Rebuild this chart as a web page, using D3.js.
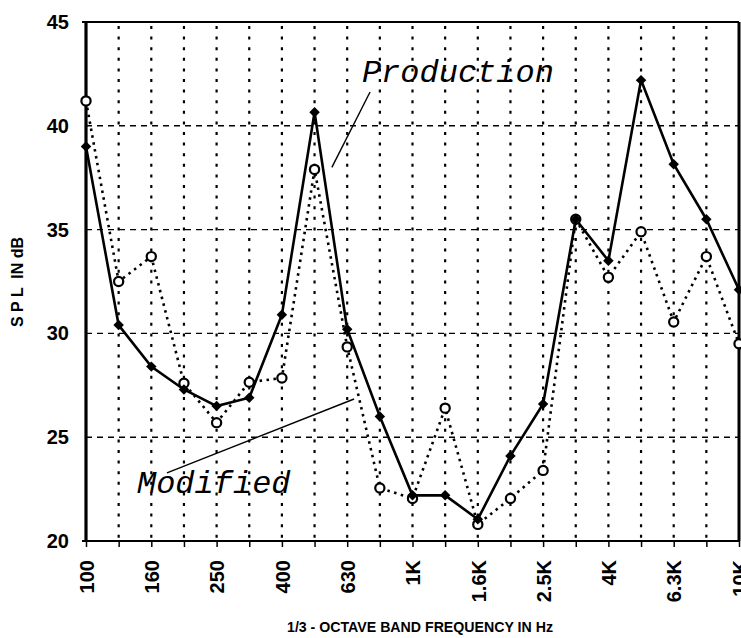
<!DOCTYPE html>
<html>
<head>
<meta charset="utf-8">
<script src="https://cdn.jsdelivr.net/npm/d3@7"></script>
<style>
  body { margin: 0; background: #fff; }
  svg { display: block; font-family: Arial, "Liberation Sans", sans-serif; }
</style>
</head>
<body>
<svg id="chart" width="741" height="638"></svg>
<script>
// 1/3 octave bands
const bands = ['100', '125', '160', '200', '250', '315', '400', '500', '630', '800', '1K',
  '1.25K', '1.6K', '2K', '2.5K', '3.15K', '4K', '5K', '6.3K', '8K', '10K'];
const tickLabels = ['100', '160', '250', '400', '630', '1K', '1.6K', '2.5K', '4K', '6.3K', '10K'];
const yTicks = [20, 25, 30, 35, 40, 45];
const production = [39.0, 30.4, 28.4, 27.3, 26.5, 26.9, 30.9, 40.65, 30.2, 26.0, 22.2,
  22.2, 21.05, 24.1, 26.6, 35.5, 33.5, 42.2, 38.15, 35.5, 32.1];
const modified = [41.2, 32.5, 33.7, 27.6, 25.7, 27.65, 27.85, 37.9, 29.35, 22.55, 22.05,
  26.4, 20.8, 22.05, 23.4, 35.5, 32.7, 34.9, 30.55, 33.7, 29.5];
// callouts: [band index, dB]
const prodLabel = { text: 'Production', at: [8.45, 42.1], line: [[8.7, 41.63], [7.53, 38.0]] };
const modLabel = { text: 'Modified', at: [1.56, 22.31], line: [[2.48, 23.28], [8.21, 26.84]] };

const svg = d3.select('#chart');
const x = d3.scalePoint().domain(bands).range([86, 739]);
const xi = d3.scaleLinear().domain([0, bands.length - 1]).range(x.range());
const y = d3.scaleLinear().domain([20, 45]).range([541, 22]);
const x0 = x(bands[0]), x1 = x(bands[bands.length - 1]);

// grid
svg.append('g').selectAll('line').data(yTicks.slice(1, -1)).join('line')
  .attr('x1', x0).attr('x2', x1).attr('y1', d => y(d)).attr('y2', d => y(d))
  .attr('stroke', '#000').attr('stroke-width', 1.4).attr('stroke-dasharray', '6,5');
svg.append('g').selectAll('line').data(bands.slice(1, -1)).join('line')
  .attr('x1', d => x(d)).attr('x2', d => x(d)).attr('y1', y(45) + 4).attr('y2', y(20))
  .attr('stroke', '#000').attr('stroke-width', 2.2).attr('stroke-dasharray', '3,7.6');

// x axis
const gx = svg.append('g').attr('transform', `translate(0,${y(20)})`)
  .call(d3.axisBottom(x).tickSize(6).tickFormat(d => tickLabels.includes(d) ? d : ''));
gx.select('.domain').remove();
gx.selectAll('.tick line').attr('stroke-width', 1.5);
gx.selectAll('.tick text')
  .attr('transform', 'rotate(-90)')
  .attr('x', -19).attr('y', 0).attr('dy', '0.36em')
  .style('text-anchor', 'end')
  .attr('font-size', 20).attr('font-weight', 'bold').attr('fill', '#000');

// y axis
const gy = svg.append('g').attr('transform', `translate(${x0},0)`)
  .call(d3.axisLeft(y).tickValues(yTicks).tickSize(0).tickPadding(17));
gy.select('.domain').remove();
gy.selectAll('.tick text').attr('font-size', 20).attr('font-weight', 'bold').attr('fill', '#000');

// frame
svg.append('line').attr('x1', x0).attr('x2', x0).attr('y1', y(45)).attr('y2', y(20))
  .attr('stroke', '#000').attr('stroke-width', 3.2);
svg.append('line').attr('x1', x1).attr('x2', x1).attr('y1', y(45)).attr('y2', y(20))
  .attr('stroke', '#000').attr('stroke-width', 3);
svg.append('line').attr('x1', x0 - 4).attr('x2', x1).attr('y1', y(45)).attr('y2', y(45))
  .attr('stroke', '#000').attr('stroke-width', 2.2);
svg.append('line').attr('x1', x0 - 4).attr('x2', x1).attr('y1', y(20)).attr('y2', y(20))
  .attr('stroke', '#000').attr('stroke-width', 2.2);

// series
const line = d3.line().x((d, i) => x(bands[i])).y(d => y(d));
svg.append('path').datum(modified).attr('d', line)
  .attr('fill', 'none').attr('stroke', '#000').attr('stroke-width', 2.6)
  .attr('stroke-dasharray', '2.5,4.5');
svg.append('path').datum(production).attr('d', line)
  .attr('fill', 'none').attr('stroke', '#000').attr('stroke-width', 2.6);

svg.append('g').selectAll('circle').data(modified).join('circle')
  .attr('cx', (d, i) => x(bands[i])).attr('cy', d => y(d)).attr('r', 4.6)
  .attr('fill', '#fff').attr('stroke', '#000').attr('stroke-width', 2.2);
svg.append('g').selectAll('path').data(production).join('path')
  .attr('transform', (d, i) => `translate(${x(bands[i])},${y(d)})`)
  .attr('d', d3.symbol(d3.symbolDiamond2, 70))
  .attr('fill', '#000');

// callouts
for (const c of [prodLabel, modLabel]) {
  svg.append('text').attr('x', xi(c.at[0])).attr('y', y(c.at[1]))
    .attr('font-family', '"Courier New", "Liberation Mono", monospace')
    .attr('font-style', 'italic').attr('font-size', 32).attr('fill', '#000')
    .text(c.text);
  svg.append('line')
    .attr('x1', xi(c.line[0][0])).attr('y1', y(c.line[0][1]))
    .attr('x2', xi(c.line[1][0])).attr('y2', y(c.line[1][1]))
    .attr('stroke', '#000').attr('stroke-width', 1.4);
}

// axis titles
svg.append('text').attr('x', 420).attr('y', 632)
  .attr('text-anchor', 'middle').attr('font-size', 14).attr('font-weight', 'bold')
  .attr('textLength', 266).attr('lengthAdjust', 'spacingAndGlyphs')
  .text('1/3 - OCTAVE BAND FREQUENCY IN Hz');
svg.append('text').attr('transform', 'translate(23,282) rotate(-90)')
  .attr('text-anchor', 'middle').attr('font-size', 16).attr('font-weight', 'bold')
  .attr('xml:space', 'preserve')
  .text('S P L  IN dB');
</script>
</body>
</html>
